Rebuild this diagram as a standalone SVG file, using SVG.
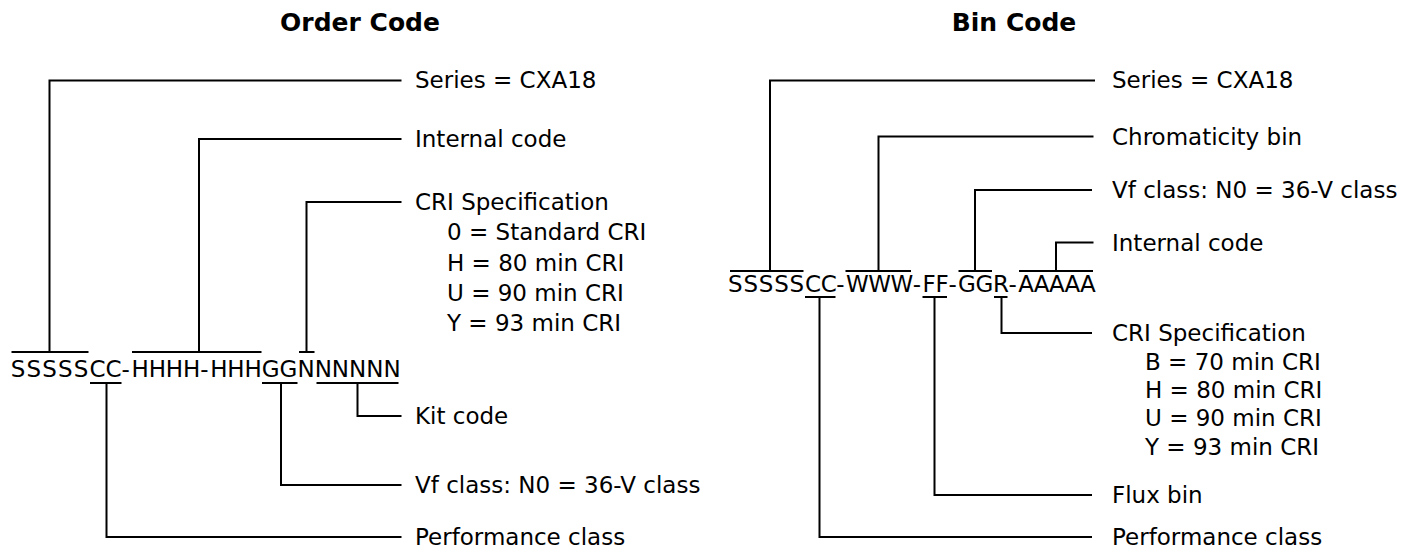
<svg xmlns="http://www.w3.org/2000/svg" width="1416" height="554" viewBox="0 0 1416 554">
<style>
text{font-family:"DejaVu Sans","Verdana",sans-serif;font-size:23px;fill:#000}
.title{font-weight:bold;font-size:25px;text-anchor:middle}
.ln{fill:none;stroke:#000;stroke-width:2}
</style>
<rect width="1416" height="554" fill="#fff"/>
<text class="title" x="360" y="31">Order Code</text>
<text class="title" x="1014" y="31">Bin Code</text>

<g id="order-code">
<text id="order-code-text" y="376.5" x="10.8 26.53 42.26 57.99 73.72 89.45 105.5 121.55 131.46 148.66 165.86 183.06 200.26 210.17 227.37 244.57 261.77 279.6 297.43 314.63 331.83 349.03 366.23 383.43">SSSSSCC-HHHH-HHHGGNNNNNN</text>
</g>
<g id="order-labels">
<g id="o-series"><text x="415" y="88">Series = CXA18</text></g>
<g id="o-internal"><text x="415" y="147">Internal code</text></g>
<g id="o-cri"><text x="415" y="210">CRI Specification</text>
<text x="447" y="240">0 = Standard CRI</text>
<text x="447" y="271">H = 80 min CRI</text>
<text x="447" y="301">U = 90 min CRI</text>
<text x="447" y="331">Y = 93 min CRI</text></g>
<g id="o-kit"><text x="415" y="424">Kit code</text></g>
<g id="o-vf"><text x="415" y="493">Vf class: N0 = 36-V class</text></g>
<g id="o-perf"><text x="415" y="545">Performance class</text></g>
</g>

<g id="bin-code">
<text id="bin-code-text" y="292" x="728 743.39 758.78 774.17 789.56 804.95 820.66 836.37 846.07 868.32 890.57 912.82 922.52 935.46 948.4 958.1 975.54 992.98 1008.62 1018.32 1033.71 1049.1 1064.49 1079.88">SSSSSCC-WWW-FF-GGR-AAAAA</text>
</g>
<g id="bin-labels">
<g id="b-series"><text x="1112" y="88">Series = CXA18</text></g>
<g id="b-chroma"><text x="1112" y="145">Chromaticity bin</text></g>
<g id="b-vf"><text x="1112" y="198">Vf class: N0 = 36-V class</text></g>
<g id="b-internal"><text x="1112" y="251">Internal code</text></g>
<g id="b-cri"><text x="1112" y="341">CRI Specification</text>
<text x="1145" y="370">B = 70 min CRI</text>
<text x="1145" y="398">H = 80 min CRI</text>
<text x="1145" y="426">U = 90 min CRI</text>
<text x="1145" y="455">Y = 93 min CRI</text></g>
<g id="b-flux"><text x="1112" y="503">Flux bin</text></g>
<g id="b-perf"><text x="1112" y="545">Performance class</text></g>
</g>

<g id="connectors" class="ln">
<path class="ln" d="M11.5 352H88.5M49.5 352V80.5H401.5"/>
<path class="ln" d="M132 352H261.5M199 352V139H401.5"/>
<path class="ln" d="M299 352H314.5M306.5 352V202H401.5"/>
<path class="ln" d="M316.5 383H398.5M357.5 383V416H401.5"/>
<path class="ln" d="M262 383H297.5M281 383V485H401.5"/>
<path class="ln" d="M90 383H121.5M106.5 383V537H401.5"/>
<path class="ln" d="M730 271H803.5M770 271V80.5H1095"/>
<path class="ln" d="M845.5 271H911M878.5 271V136.5H1093.5"/>
<path class="ln" d="M958.5 271H992M975 271V190H1092"/>
<path class="ln" d="M1019 271H1093M1056 271V242.5H1093.5"/>
<path class="ln" d="M994 297H1007.5M1001.5 297V333H1092"/>
<path class="ln" d="M922.5 297H947M934.5 297V495H1092"/>
<path class="ln" d="M805 297H835.5M819.5 297V537H1092"/>
</g>
</svg>
